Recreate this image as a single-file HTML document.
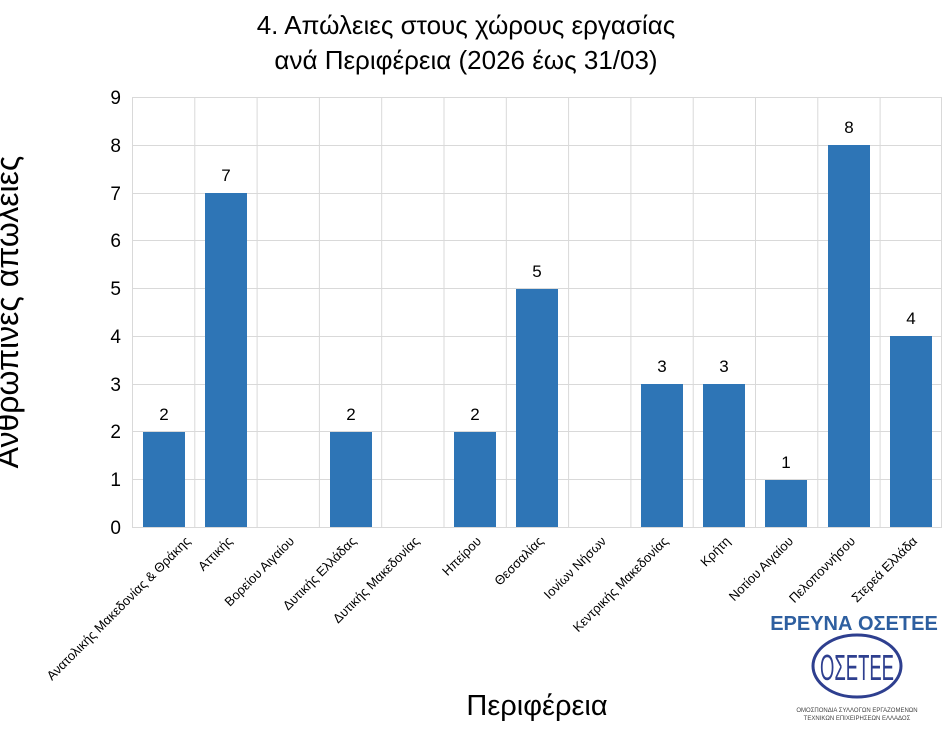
<!DOCTYPE html>
<html><head><meta charset="utf-8"><style>body{margin:0;background:#fff}svg{display:block}text{font-family:"Liberation Sans","DejaVu Sans",sans-serif}</style></head><body>
<svg width="946" height="736" viewBox="0 0 946 736" xmlns="http://www.w3.org/2000/svg">
<rect width="946" height="736" fill="#fff"/>
<text x="466" y="34" font-size="26" text-anchor="middle">4. Απώλειες στους χώρους εργασίας</text>
<text x="466" y="69" font-size="26" text-anchor="middle">ανά Περιφέρεια (2026 έως 31/03)</text>
<g stroke="#d9d9d9" stroke-width="1">
<line x1="132" y1="97.5" x2="942" y2="97.5"/><line x1="132" y1="145.5" x2="942" y2="145.5"/><line x1="132" y1="193.5" x2="942" y2="193.5"/><line x1="132" y1="240.5" x2="942" y2="240.5"/><line x1="132" y1="288.5" x2="942" y2="288.5"/><line x1="132" y1="336.5" x2="942" y2="336.5"/><line x1="132" y1="384.5" x2="942" y2="384.5"/><line x1="132" y1="431.5" x2="942" y2="431.5"/><line x1="132" y1="479.5" x2="942" y2="479.5"/><line x1="132" y1="527.5" x2="942" y2="527.5"/>
<line x1="132.5" y1="97" x2="132.5" y2="527"/><line x1="194.8" y1="97" x2="194.8" y2="527"/><line x1="257.1" y1="97" x2="257.1" y2="527"/><line x1="319.4" y1="97" x2="319.4" y2="527"/><line x1="381.7" y1="97" x2="381.7" y2="527"/><line x1="444" y1="97" x2="444" y2="527"/><line x1="506.3" y1="97" x2="506.3" y2="527"/><line x1="568.6" y1="97" x2="568.6" y2="527"/><line x1="630.9" y1="97" x2="630.9" y2="527"/><line x1="693.2" y1="97" x2="693.2" y2="527"/><line x1="755.5" y1="97" x2="755.5" y2="527"/><line x1="817.8" y1="97" x2="817.8" y2="527"/><line x1="880.1" y1="97" x2="880.1" y2="527"/><line x1="941.5" y1="97" x2="941.5" y2="527"/>
</g>
<g font-size="19" text-anchor="end">
<text x="121" y="104">9</text><text x="121" y="152">8</text><text x="121" y="200">7</text><text x="121" y="247">6</text><text x="121" y="295">5</text><text x="121" y="343">4</text><text x="121" y="391">3</text><text x="121" y="438">2</text><text x="121" y="486">1</text><text x="121" y="534">0</text>
</g>
<g fill="#2e75b6">
<rect x="143" y="432" width="42" height="95"/>
<rect x="205" y="193" width="42" height="334"/>
<rect x="330" y="432" width="42" height="95"/>
<rect x="454" y="432" width="42" height="95"/>
<rect x="516" y="289" width="42" height="238"/>
<rect x="641" y="384" width="42" height="143"/>
<rect x="703" y="384" width="42" height="143"/>
<rect x="765" y="480" width="42" height="47"/>
<rect x="828" y="145" width="42" height="382"/>
<rect x="890" y="336" width="42" height="191"/>
</g>
<g font-size="17" text-anchor="middle">
<text x="164" y="420">2</text><text x="226" y="181">7</text><text x="351" y="420">2</text><text x="475" y="420">2</text><text x="537" y="277">5</text><text x="662" y="372">3</text><text x="724" y="372">3</text><text x="786" y="468">1</text><text x="849" y="133">8</text><text x="911" y="324">4</text>
</g>
<g font-size="13" text-anchor="end">
<text transform="translate(191,542) rotate(-45)">Ανατολικής Μακεδονίας &amp; Θράκης</text>
<text transform="translate(233,542) rotate(-45)">Αττικής</text>
<text transform="translate(295,542) rotate(-45)">Βορείου Αιγαίου</text>
<text transform="translate(357,542) rotate(-45)">Δυτικής Ελλάδας</text>
<text transform="translate(420,542) rotate(-45)">Δυτικής Μακεδονίας</text>
<text transform="translate(482,542) rotate(-45)">Ηπείρου</text>
<text transform="translate(544,542) rotate(-45)">Θεσσαλίας</text>
<text transform="translate(607,542) rotate(-45)">Ιονίων Νήσων</text>
<text transform="translate(669,542) rotate(-45)">Κεντρικής Μακεδονίας</text>
<text transform="translate(731,542) rotate(-45)">Κρήτη</text>
<text transform="translate(794,542) rotate(-45)">Νοτίου Αιγαίου</text>
<text transform="translate(856,542) rotate(-45)">Πελοποννήσου</text>
<text transform="translate(918,542) rotate(-45)">Στερεά Ελλάδα</text>
</g>
<text transform="translate(18,312) rotate(-90)" font-size="32" text-anchor="middle">Ανθρώπινες απώλειες</text>
<text x="537" y="715" font-size="29" text-anchor="middle">Περιφέρεια</text>
<text x="854" y="630" font-size="20" font-weight="bold" fill="#2e5fa0" text-anchor="middle">ΕΡΕΥΝΑ ΟΣΕΤΕΕ</text>
<ellipse cx="857" cy="666" rx="44" ry="31" fill="#fff" stroke="#2e3f8f" stroke-width="3"/>
<text x="857" y="680" font-size="36" fill="#2e3f8f" text-anchor="middle" textLength="74" lengthAdjust="spacingAndGlyphs">ΟΣΕΤΕΕ</text>
<text x="857" y="712" font-size="6" fill="#444" text-anchor="middle">ΟΜΟΣΠΟΝΔΙΑ ΣΥΛΛΟΓΩΝ ΕΡΓΑΖΟΜΕΝΩΝ</text>
<text x="857" y="720" font-size="6" fill="#444" text-anchor="middle">ΤΕΧΝΙΚΩΝ ΕΠΙΧΕΙΡΗΣΕΩΝ ΕΛΛΑΔΟΣ</text>
</svg>
</body></html>
